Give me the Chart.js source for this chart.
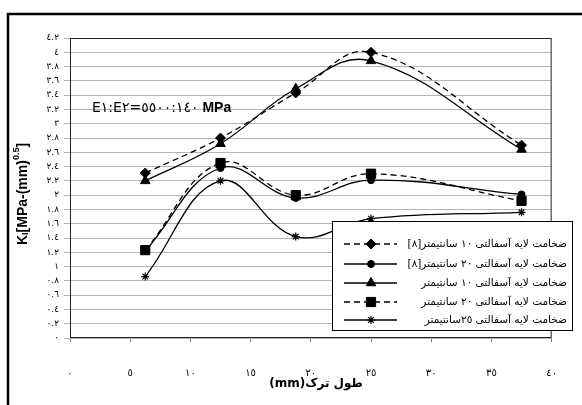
<!DOCTYPE html>
<html>
<head>
<meta charset="utf-8">
<script src="https://cdn.jsdelivr.net/npm/chart.js@4/dist/chart.umd.min.js"></script>
<style>
  html, body { margin: 0; padding: 0; background: #fff; }
  #wrap { position: relative; width: 582px; height: 405px; }
</style>
</head>
<body>
<div id="wrap"><canvas id="chart1"></canvas></div>
<script>
// crack length (mm)
const crackLength = [6.25, 12.5, 18.75, 25, 37.5];

// K_I values
const ref10cm = [2.31, 2.80, 3.43, 4.00, 2.70];   // diamond, dashed  [8]
const ref20cm = [1.22, 2.38, 1.96, 2.21, 2.01];   // circle, solid    [8]
const asphalt10cm = [2.20, 2.72, 3.49, 3.88, 2.64]; // triangle, solid
const asphalt20cm = [1.23, 2.45, 2.00, 2.30, 1.92]; // square, dashed
const asphalt25cm = [0.86, 2.20, 1.42, 1.67, 1.76]; // asterisk, solid

const seriesLabels = [
    "ضخامت لایه آسفالتی ١٠ سانتیمتر[٨]",
    "ضخامت لایه آسفالتی ٢٠ سانتیمتر[٨]",
    "ضخامت لایه آسفالتی ١٠ سانتیمتر",
    "ضخامت لایه آسفالتی ٢٠ سانتیمتر",
    "ضخامت لایه آسفالتی ٢٥سانتیمتر"
];

const xTickLabels = ["٠", "٥", "١٠", "١٥", "٢٠", "٢٥", "٣٠", "٣٥", "٤٠"];
const yTickLabels = ["٠", "٠.٢", "٠.٤", "٠.٦", "٠.٨", "١", "١.٢", "١.٤", "١.٦", "١.٨", "٢",
    "٢.٢", "٢.٤", "٢.٦", "٢.٨", "٣", "٣.٢", "٣.٤", "٣.٦", "٣.٨", "٤", "٤.٢"];

const xTitle = "طول ترک(mm)";
// LRM marks keep the digits in left-to-right order around "="
const ratioText = "E١:E٢\u200E=\u200E٥٥٠٠:١٤٠";

function pts(ys) {
    return ys.map((y, i) => ({ x: crackLength[i], y: y }));
}

function series(label, ys, style, radius, dashed) {
    return {
        label: label,
        data: pts(ys),
        borderColor: '#000',
        backgroundColor: '#000',
        borderWidth: 1.3,
        borderDash: dashed ? [6, 4] : [],
        pointStyle: style,
        pointRadius: radius,
        pointBorderWidth: style === 'star' ? 1.2 : 1,
        pointBackgroundColor: '#000',
        pointBorderColor: '#000',
        tension: 0.4,
        fill: false,
    };
}

const frameAndLegend = {
    id: 'frameAndLegend',
    afterDraw(chart) {
        const ctx = chart.ctx;
        const a = chart.chartArea;
        ctx.save();

        // outer frame
        ctx.strokeStyle = '#000';
        ctx.lineWidth = 2.5;
        ctx.strokeRect(8, 14, 700, 500);

        // plot border
        ctx.lineWidth = 1;
        ctx.strokeStyle = '#222';
        ctx.strokeRect(a.left + 0.5, a.top + 0.5, a.right - a.left - 1, a.bottom - a.top - 1);

        // E1:E2 note
        ctx.fillStyle = '#000';
        ctx.textBaseline = 'middle';
        ctx.textAlign = 'left';
        ctx.direction = 'ltr';
        ctx.font = '14px "DejaVu Sans"';
        ctx.fillText(ratioText, 92, 108);
        const w = ctx.measureText(ratioText).width;
        ctx.font = 'bold 14px "Liberation Sans"';
        ctx.fillText(' MPa', 92 + w, 108);

        // y axis title, rotated
        ctx.save();
        ctx.translate(23, 194);
        ctx.rotate(-Math.PI / 2);
        const parts = [
            { t: 'K', f: 'bold 14px "Liberation Sans"', dy: 0 },
            { t: 'I', f: 'bold 9px "Liberation Sans"', dy: 3 },
            { t: '[MPa-(mm)', f: 'bold 14px "Liberation Sans"', dy: 0 },
            { t: '0.5', f: 'bold 9px "Liberation Sans"', dy: -6 },
            { t: ']', f: 'bold 14px "Liberation Sans"', dy: 0 },
        ];
        let total = 0;
        parts.forEach(p => { ctx.font = p.f; p.w = ctx.measureText(p.t).width; total += p.w; });
        let px = -total / 2;
        ctx.textAlign = 'left';
        parts.forEach(p => { ctx.font = p.f; ctx.fillText(p.t, px, p.dy); px += p.w; });
        ctx.restore();

        // x axis title
        ctx.font = 'bold 12px "DejaVu Sans"';
        ctx.direction = 'rtl';
        ctx.textAlign = 'center';
        ctx.fillText(xTitle, 316, 384);

        // legend box
        const lx = 332, ly = 221, lw = 240, lh = 109;
        ctx.fillStyle = '#fff';
        ctx.fillRect(lx, ly, lw, lh);
        ctx.strokeStyle = '#000';
        ctx.lineWidth = 1;
        ctx.strokeRect(lx + 0.5, ly + 0.5, lw, lh);

        const rows = [244, 264, 283, 302, 320];
        chart.data.datasets.forEach((ds, i) => {
            const y = rows[i];
            ctx.strokeStyle = '#000';
            ctx.fillStyle = '#000';
            ctx.lineWidth = 1.3;
            ctx.setLineDash(ds.borderDash);
            ctx.beginPath();
            ctx.moveTo(344, y);
            ctx.lineTo(397, y);
            ctx.stroke();
            ctx.setLineDash([]);
            ctx.lineWidth = ds.pointBorderWidth;
            Chart.helpers.drawPoint(ctx, {
                pointStyle: ds.pointStyle,
                radius: ds.pointRadius,
                rotation: 0,
                borderWidth: ds.pointBorderWidth
            }, 371, y);
            ctx.fillStyle = '#000';
            ctx.font = '10.5px "DejaVu Sans"';
            ctx.direction = 'rtl';
            ctx.textAlign = 'right';
            ctx.textBaseline = 'middle';
            ctx.fillText(ds.label, 567, y);
        });
        ctx.restore();
    }
};

const ctx1 = document.getElementById("chart1").getContext("2d");

var chart1 = new Chart(ctx1, {
    type: "line",
    data: {
        datasets: [
            series(seriesLabels[0], ref10cm, 'rectRot', 5, true),
            series(seriesLabels[1], ref20cm, 'circle', 3.5, false),
            series(seriesLabels[2], asphalt10cm, 'triangle', 5.5, false),
            series(seriesLabels[3], asphalt20cm, 'rect', 6.5, true),
            series(seriesLabels[4], asphalt25cm, 'star', 4, false),
        ],
    },
    options: {
        responsive: true,
        maintainAspectRatio: false,
        animation: false,
        layout: {
            padding: { top: 38, right: 9, left: 0, bottom: 0 }
        },
        plugins: {
            legend: { display: false },
            tooltip: { enabled: false },
        },
        scales: {
            x: {
                type: 'linear',
                min: 0,
                max: 40,
                afterFit(scale) { scale.height = 67; },
                ticks: {
                    stepSize: 5,
                    padding: 25,
                    maxRotation: 0,
                    color: '#000',
                    font: { family: 'DejaVu Sans', size: 10 },
                    callback: (v, i) => xTickLabels[i],
                },
                grid: {
                    drawOnChartArea: false,
                    drawTicks: true,
                    tickLength: 4,
                    color: '#777',
                },
                border: { display: false },
            },
            y: {
                min: 0,
                max: 4.2,
                afterFit(scale) { scale.width = 70; },
                ticks: {
                    stepSize: 0.2,
                    padding: 5,
                    color: '#000',
                    font: { family: 'DejaVu Sans', size: 9 },
                    callback: (v, i) => yTickLabels[i],
                },
                grid: {
                    color: '#b4b4b4',
                    lineWidth: 1,
                    tickLength: 6,
                },
                border: { display: false },
            },
        },
    },
    plugins: [frameAndLegend],
});
</script>
</body>
</html>
